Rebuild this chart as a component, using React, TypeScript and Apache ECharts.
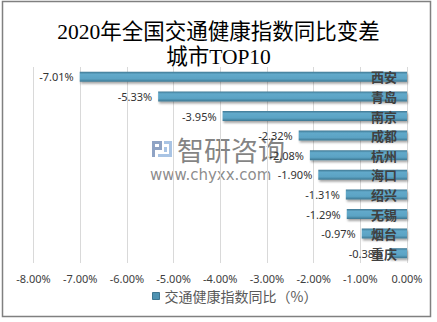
import React, { useEffect, useRef } from "react";
import * as echarts from "echarts";

const categories = ["西安", "青岛", "南京", "成都", "杭州", "海口", "绍兴", "无锡", "烟台", "重庆"];
const values = [-7.01, -5.33, -3.95, -2.32, -2.08, -1.9, -1.31, -1.29, -0.97, -0.38];
const seriesName = "交通健康指数同比（%）";
const titleText = "2020年全国交通健康指数同比变差\n城市TOP10";
const xMin = -8;
const xMax = 0;
const xInterval = 1;

export default function App() {
  const ref = useRef<HTMLDivElement>(null);
  useEffect(() => {
    if (!ref.current) return;
    const chart = echarts.init(ref.current, null, { renderer: "svg" });
    chart.setOption({
      animation: false,
      backgroundColor: "#fff",
      title: {
        text: titleText,
        left: "center",
        top: 14,
        textStyle: {
          fontFamily: "Liberation Serif, 'Noto Sans CJK SC', serif",
          fontSize: 21.5,
          lineHeight: 25,
          fontWeight: "normal",
          color: "#000",
        },
      },
      legend: {
        bottom: 14,
        left: 147,
        icon: "rect",
        itemWidth: 7,
        itemHeight: 7,
        itemGap: 4,
        textStyle: { fontSize: 14, color: "#595959", fontFamily: "'Noto Sans CJK SC', sans-serif" },
        data: [{ name: seriesName, itemStyle: { color: "#4f93b2", borderColor: "#3e7690", borderWidth: 1 } }],
      },
      grid: { left: 33.5, right: 30, top: 67, bottom: 59 },
      xAxis: {
        type: "value",
        min: xMin,
        max: xMax,
        interval: xInterval,
        axisLine: { show: false },
        axisTick: { show: false },
        splitLine: { show: true, lineStyle: { color: "#d9d9d9", width: 1 } },
        axisLabel: {
          formatter: (v: number) => v.toFixed(2) + "%",
          fontSize: 11,
          color: "#404040",
          fontFamily: "'Noto Sans', sans-serif",
          margin: 10,
        },
      },
      yAxis: {
        type: "category",
        data: categories,
        inverse: true,
        position: "right",
        z: 5,
        axisLine: { show: false },
        axisTick: { show: false },
        axisLabel: {
          inside: true,
          margin: 10,
          fontSize: 13,
          fontWeight: "bold",
          color: "#404040",
          fontFamily: "'Noto Sans CJK SC', sans-serif",
        },
      },
      series: [
        {
          name: seriesName,
          type: "bar",
          data: values,
          barWidth: 10,
          itemStyle: {
            color: new echarts.graphic.LinearGradient(0, 0, 0, 1, [
              { offset: 0, color: "#3f7893" },
              { offset: 0.25, color: "#62a9ca" },
              { offset: 0.7, color: "#5ba3c4" },
              { offset: 1, color: "#3d7690" },
            ]),
            shadowColor: "rgba(0,0,0,0.35)",
            shadowBlur: 2,
            shadowOffsetY: 2,
            shadowOffsetX: 1,
          },
          label: {
            show: true,
            position: "left",
            distance: 6,
            formatter: (p: any) => p.value.toFixed(2) + "%",
            fontSize: 11,
            color: "#333",
            fontFamily: "'Noto Sans', sans-serif",
          },
        },
      ],
      graphic: [
        {
          type: "rect",
          shape: { x: 2.5, y: 1.5, width: 428, height: 315 },
          style: { fill: "none", stroke: "#808080", lineWidth: 1.5 },
          silent: true,
        },
        {
          type: "group",
          left: 150,
          top: 136,
          z: 100,
          silent: true,
          children: [
            { type: "rect", shape: { x: 2, y: 2, width: 10, height: 3 }, style: { fill: "#8fa3c4" } },
            { type: "rect", shape: { x: 9, y: 2, width: 3, height: 9 }, style: { fill: "#8fa3c4" } },
            { type: "rect", shape: { x: 2, y: 8, width: 10, height: 3 }, style: { fill: "#8fa3c4" } },
            { type: "rect", shape: { x: 2, y: 2, width: 3, height: 16 }, style: { fill: "#8fa3c4" } },
            { type: "rect", shape: { x: 14, y: 2, width: 8, height: 3 }, style: { fill: "#a9c4e4" } },
            { type: "rect", shape: { x: 19, y: 2, width: 3, height: 16 }, style: { fill: "#a9c4e4" } },
            { type: "rect", shape: { x: 8, y: 15, width: 14, height: 3 }, style: { fill: "#a9c4e4" } },
            { type: "rect", shape: { x: 14, y: 8, width: 3, height: 5 }, style: { fill: "#a9c4e4" } },
            {
              type: "text",
              x: 27,
              y: -3,
              style: {
                text: "智研咨询",
                fontSize: 27,
                fill: "rgba(110,110,110,0.85)",
                fontFamily: "'Noto Sans CJK SC', sans-serif",
              },
            },
            {
              type: "text",
              x: 0,
              y: 28,
              style: {
                text: "www.chyxx.com",
                fontSize: 15,
                fill: "rgba(110,110,110,0.8)",
                fontFamily: "'DejaVu Sans', sans-serif",
              },
            },
          ],
        },
      ],
    });
    return () => chart.dispose();
  }, []);
  return (
    <div
      ref={ref}
      style={{ position: "fixed", left: 0, top: 0, width: 437, height: 322, background: "#fff" }}
    />
  );
}
